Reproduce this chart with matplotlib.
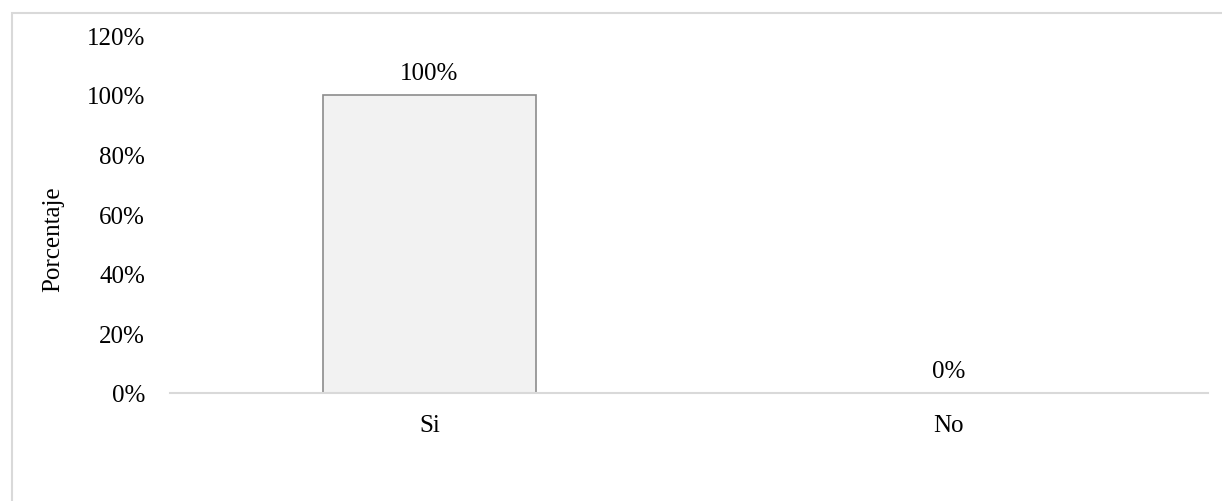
import matplotlib
matplotlib.use("Agg")
import matplotlib.pyplot as plt
from matplotlib.patches import Rectangle
from matplotlib.ticker import FuncFormatter

categories = ["Si", "No"]
values = [100, 0]
labels = ["100%", "0%"]
yticks = [0, 20, 40, 60, 80, 100, 120]

plt.rcParams['font.family'] = ['Liberation Serif', 'DejaVu Serif']
fs = 18

fig = plt.figure(figsize=(12.22, 5.02), dpi=100)
fig.patches.append(Rectangle((12/1222, -0.1), 1.2, (502-14)/502 + 0.1,
                             transform=fig.transFigure, fill=False,
                             edgecolor='#d9d9d9', linewidth=1.5))
ax = fig.add_axes([170/1222, (502-394)/502, (1208-170)/1222, 357.6/502])
x = list(range(len(categories)))
ax.bar(x, values, width=0.41, color='#f2f2f2', edgecolor='#8c8c8c', linewidth=1.2)
for xi, v, lab in zip(x, values, labels):
    ax.annotate(lab, (xi, v), xytext=(0, 15.5), textcoords='offset points',
                ha='center', va='center', fontsize=fs)
ax.set_xlim(-0.5, 1.5)
ax.set_ylim(0, 120)
ax.set_yticks(yticks)
ax.yaxis.set_major_formatter(FuncFormatter(lambda v, p: f"{int(v)}%"))
ax.set_xticks(x)
ax.set_xticklabels(categories)
ax.tick_params(axis='both', length=0, labelsize=fs)
ax.tick_params(axis='y', pad=18)
ax.tick_params(axis='x', pad=15)
for s in ['top', 'right', 'left']:
    ax.spines[s].set_visible(False)
ax.spines['bottom'].set_color('#d9d9d9')
ax.spines['bottom'].set_linewidth(1.5)
ax.set_ylabel("Porcentaje", fontsize=fs, ha='center', va='center')
ax.yaxis.set_label_coords((53-170)/1038, (394-239)/357.6)
fig.savefig("out.png", dpi=100)
